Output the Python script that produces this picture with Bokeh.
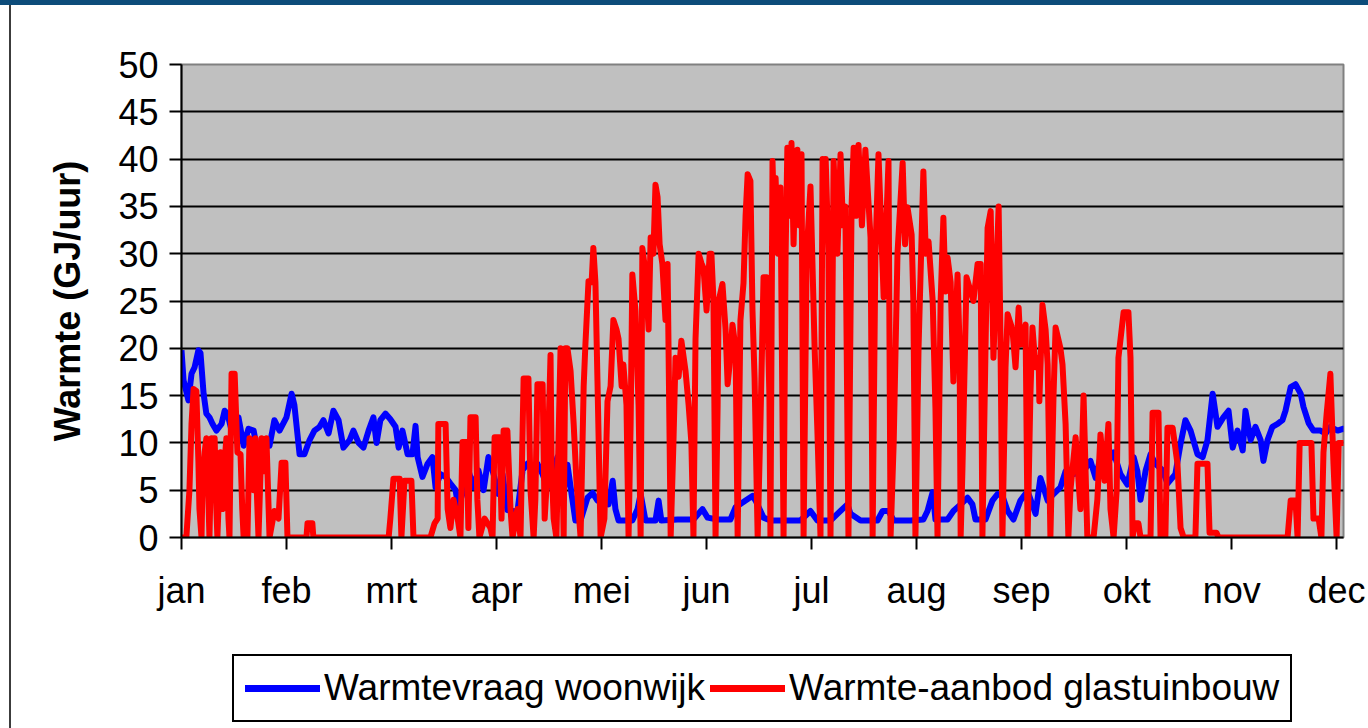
from bokeh.plotting import figure
from bokeh.models import Range1d, FixedTicker, Legend, LegendItem, Div
from bokeh.layouts import column, row
from bokeh.embed import file_html
from bokeh.resources import INLINE

# x positions are day-of-year (0 = 1 jan); values are GJ/uur
month_days = [0, 30.4, 60.8, 91.3, 121.7, 152.1, 182.5, 212.9, 243.3, 273.8, 304.2, 334.6]
month_labels = ["jan", "feb", "mrt", "apr", "mei", "jun", "jul", "aug", "sep", "okt", "nov", "dec"]
y_ticks = [0, 5, 10, 15, 20, 25, 30, 35, 40, 45, 50]
grid_ticks = [5, 10, 15, 20, 25, 30, 35, 40, 45]

# Warmtevraag woonwijk (day, GJ/uur)
blue = [
    (0, 19.8), (0.6, 16.6), (2.0, 14.5), (2.9, 17.3), (3.8, 18), (4.9, 19.8), (5.5, 19.5),
    (6.4, 15.2), (7.2, 13.1), (8.1, 12.7), (9.0, 12), (10.1, 11.3), (11.6, 12), (12.5, 13.4),
    (13.3, 13.1), (14.5, 11.3), (16.5, 12.7), (18.0, 9.7), (19.4, 11.5), (20.9, 11.3), (21.7, 9.7),
    (23.5, 9.9), (25.5, 9.7), (26.9, 12.4), (28.4, 11.3), (30.4, 12.7), (31.9, 15.2), (32.7, 14),
    (34.2, 8.8), (35.6, 8.8), (37.1, 10.3), (38.5, 11.3), (40.0, 11.7), (41.1, 12.4), (42.6, 11),
    (44.0, 13.4), (45.5, 12.4), (46.9, 9.5), (48.7, 10.3), (49.8, 11.3), (51.3, 10), (52.7, 9.5),
    (54.2, 11.3), (55.6, 12.7), (56.5, 10), (57.6, 12.4), (59.1, 13.1), (60.5, 12.5), (62.0, 11.7),
    (62.9, 9.5), (64.0, 11.3), (65.5, 8.8), (66.9, 8.8), (67.8, 11.8), (68.4, 8.5), (69.8, 6.4),
    (71.3, 7.8), (72.7, 8.5), (73.6, 5.3), (75.0, 6.7), (76.5, 6.4), (77.9, 5.7), (79.4, 5.0),
    (80.2, 3.2), (81.7, 5.0), (83.1, 7.1), (84.6, 5.3), (86.0, 7.1), (87.5, 5.0), (88.9, 8.5),
    (90.4, 6.7), (91.8, 4.6), (93.0, 6.7), (94.4, 2.9), (95.9, 2.8), (97.3, 2.7), (98.8, 7.1),
    (100.2, 7.8), (101.7, 7.5), (103.1, 7.8), (104.6, 6.7), (106.0, 5.3), (107.5, 6.7), (108.9, 8.5),
    (110.4, 4.0), (111.8, 7.7), (113.0, 4.6), (114.1, 1.8), (115.6, 1.8), (117.6, 4.2), (119.1, 4.7),
    (120.5, 3.9), (122.2, 4.2), (123.7, 3.5), (124.9, 6.0), (125.7, 3.0), (126.6, 1.8), (130.6, 1.8),
    (132.1, 3.0), (133.0, 4.6), (134.4, 1.8), (137.3, 1.8), (138.2, 3.9), (139.0, 1.8), (143.7, 1.9),
    (148.3, 1.9), (150.9, 3.0), (152.4, 2.1), (155.3, 1.9), (159.0, 1.9), (160.5, 3.2), (163.4, 3.9),
    (165.4, 4.4), (166.3, 3.9), (168.6, 2.1), (170.6, 1.8), (179.3, 1.8), (182.2, 2.8), (184.2, 1.8),
    (188.0, 1.8), (190.0, 2.5), (192.9, 3.5), (193.8, 2.5), (196.7, 1.8), (201.6, 1.8), (203.1, 2.8),
    (204.8, 2.8), (206.3, 1.8), (211.2, 1.8), (214.9, 1.9), (216.1, 2.8), (217.6, 4.8), (218.4, 1.9),
    (221.9, 1.9), (223.6, 2.8), (225.7, 3.5), (227.7, 4.2), (229.1, 3.5), (230.0, 1.9), (232.9, 1.9),
    (234.9, 3.9), (236.4, 4.6), (237.8, 4.4), (239.3, 2.8), (241.0, 1.9), (243.0, 3.9), (245.1, 4.9),
    (247.4, 2.5), (248.8, 6.3), (250.9, 3.9), (252.6, 4.6), (254.6, 5.3), (256.1, 7.0), (258.4, 6.7),
    (261.3, 7.0), (263.3, 8.1), (264.8, 6.3), (266.2, 8.5), (268.2, 7.8), (270.0, 9.0), (272.0, 6.7),
    (274.0, 5.6), (275.8, 8.5), (276.9, 7.0), (277.8, 4.0), (279.3, 7.1), (280.7, 8.8), (282.1, 7.8),
    (284.2, 7.1), (285.6, 5.7), (287.9, 6.7), (289.4, 9.9), (290.8, 12.4), (292.3, 11.3), (294.3, 8.8),
    (295.8, 8.5), (297.2, 10.3), (298.7, 15.2), (300.1, 11.7), (301.8, 12.7), (303.3, 13.4),
    (304.5, 9.5), (305.9, 11.3), (307.4, 9.2), (308.2, 13.4), (309.7, 10.3), (311.1, 11.7),
    (312.6, 10.3), (313.4, 8.1), (314.6, 10.3), (316.0, 11.7), (317.5, 12), (318.9, 12.4),
    (319.8, 13.4), (321.3, 15.9), (322.7, 16.2), (324.2, 15.2), (325.0, 13.8), (326.5, 12.1),
    (327.9, 11.3), (329.9, 11.3), (331.4, 11), (332.8, 11.7), (334.9, 11.3), (336.6, 11.5), (337.8, 11.3),
]

# Warmte-aanbod glastuinbouw (day, GJ/uur)
red = [
    (0, 0), (1.4, 0), (2.3, 5), (2.9, 12), (3.5, 15.7), (4.3, 15.5), (4.9, 8), (5.2, 3), (5.8, 0),
    (6.1, 6), (6.7, 9), (7.2, 10.5), (7.8, 4), (8.1, 0), (8.7, 10.5), (9.0, 6), (9.6, 10.5),
    (10.1, 3), (10.4, 0), (11.3, 9), (11.9, 3), (12.5, 8), (13.0, 10.5), (13.6, 2), (13.9, 0),
    (14.5, 17.3), (15.4, 17.3), (16.2, 9), (17.1, 8.8), (17.6, 3), (18.0, 0), (19.1, 0), (19.7, 10.5),
    (20.3, 8), (20.9, 5), (21.4, 10.5), (21.9, 4), (22.3, 0), (23.2, 10.5), (23.9, 7), (24.6, 10.5),
    (25.5, 0), (26.9, 2.8), (28.1, 2), (29.0, 7.9), (30.1, 7.9), (30.7, 0), (36.2, 0), (36.5, 1.5),
    (37.9, 1.5), (38.2, 0), (60.0, 0), (60.5, 2), (61.4, 6.2), (63.2, 6.2), (63.7, 0), (64.6, 6.0),
    (66.6, 6.0), (67.2, 0), (72.1, 0), (73.3, 1.5), (74.2, 2), (74.4, 12), (76.5, 12), (77.1, 3),
    (77.9, 1), (78.8, 4), (80.0, 2), (80.8, 0), (81.4, 10.1), (82.6, 10.1), (83.1, 1), (83.7, 12.7),
    (85.2, 12.7), (85.7, 4), (86.3, 0), (87.8, 2), (89.5, 1), (90.1, 0), (90.7, 10.6), (92.1, 10.6),
    (92.7, 2), (93.3, 11.3), (94.4, 11.3), (95.3, 3), (95.9, 0), (97.3, 3), (98.2, 0), (99.1, 16.8),
    (100.5, 16.8), (101.1, 5), (102.0, 0), (102.5, 4), (103.1, 16.2), (104.6, 16.2), (105.2, 2),
    (106.0, 7), (106.9, 19.3), (107.2, 8), (107.8, 2), (108.6, 0), (109.2, 10), (109.8, 20),
    (110.7, 0), (111.2, 20), (111.8, 20), (112.7, 17.6), (113.6, 12), (114.4, 6), (115.6, 0),
    (116.5, 16), (117.0, 20.4), (117.9, 27.1), (118.8, 27), (119.3, 30.6), (119.9, 27), (120.5, 16.5),
    (121.4, 0), (122.5, 2), (123.4, 14.4), (124.3, 16), (125.1, 23), (126.0, 22), (126.6, 21),
    (127.5, 16), (128.0, 18.3), (128.9, 14), (129.5, 0), (130.1, 12), (130.6, 27.8), (131.5, 24),
    (132.4, 14), (133.0, 0), (133.5, 30.6), (134.4, 28), (135.3, 22), (135.9, 31.7), (136.7, 30),
    (137.3, 37.3), (137.9, 36), (138.5, 31), (139.3, 28.9), (140.2, 23), (140.8, 28.9), (141.4, 10),
    (141.7, 0), (142.5, 10), (143.1, 19), (144.0, 17), (144.8, 20.8), (146.0, 17.6), (146.9, 14),
    (147.7, 10), (148.3, 0), (148.9, 21), (149.8, 30), (150.6, 29), (151.2, 28.5), (152.1, 24),
    (153.0, 30), (153.5, 30), (154.1, 25), (154.7, 0), (155.3, 14), (155.6, 25), (156.7, 26.8),
    (157.6, 22), (158.2, 16.2), (158.7, 18), (159.6, 22.5), (160.5, 20), (161.1, 0), (161.9, 22.9),
    (162.8, 26.9), (163.4, 34), (164.0, 38.4), (164.8, 37.7), (165.4, 24), (166.0, 16.9), (166.9, 0),
    (167.7, 12), (168.6, 27.5), (169.5, 27.5), (170.3, 15), (170.6, 0), (171.2, 39.8), (171.7, 33),
    (172.1, 38), (172.8, 30), (173.5, 37), (174.4, 0), (175.0, 30), (175.5, 41.2), (176.1, 34),
    (176.7, 41.7), (177.3, 31), (177.8, 38), (178.4, 41), (179.0, 33), (179.6, 40.5), (180.2, 0),
    (181.1, 30), (182.2, 37.1), (183.4, 20), (184.2, 11.3), (185.1, 0), (185.7, 40), (186.1, 32),
    (186.6, 40), (187.4, 30), (188.0, 0), (188.9, 39.8), (190.0, 30), (190.9, 40.5), (191.6, 33),
    (192.3, 35), (193.2, 0), (194.1, 35), (194.7, 41.2), (195.4, 34), (196.1, 41.5), (197.1, 33),
    (198.1, 41), (199.6, 31.7), (200.2, 0), (201.0, 30), (201.9, 40.5), (203.4, 25.4), (204.8, 39.8),
    (205.4, 0), (206.3, 10), (207.4, 30), (208.9, 39.6), (209.6, 31), (210.3, 34.9), (211.5, 32),
    (212.0, 25), (212.6, 0), (213.5, 20), (214.9, 38.7), (215.6, 30), (216.4, 31.3), (217.6, 25),
    (218.4, 13.7), (219.0, 0), (219.9, 25), (220.7, 33.8), (221.3, 26), (221.9, 29.6), (222.8, 27),
    (223.6, 16.5), (224.8, 27.8), (225.4, 20), (225.7, 0), (226.2, 7), (227.4, 27.5), (228.6, 26),
    (229.4, 25), (230.6, 28.9), (231.5, 28.9), (232.0, 0), (232.9, 20), (233.5, 32.7), (234.4, 34.5),
    (235.2, 19), (236.7, 35), (237.2, 22), (237.8, 0), (238.7, 18), (239.3, 23.6), (240.7, 22),
    (241.6, 18), (242.5, 24.3), (243.0, 20.4), (244.5, 22.5), (245.1, 0), (245.9, 15), (246.5, 22.2),
    (247.4, 18), (248.3, 19), (248.5, 14.4), (249.4, 24.6), (250.3, 22), (250.9, 18.3), (251.7, 0),
    (252.6, 15), (253.2, 22.2), (254.6, 20), (255.2, 18.3), (256.1, 12), (256.9, 0), (257.5, 5),
    (259.0, 10.6), (260.4, 3), (261.3, 15), (262.4, 0), (264.2, 0), (265.3, 4), (266.2, 10.9),
    (267.4, 6), (268.5, 12), (269.1, 3), (270.0, 0), (270.9, 5), (271.4, 19), (272.9, 23.8),
    (274.3, 23.8), (274.9, 19), (275.5, 0), (276.1, 1.5), (277.2, 1.5), (277.8, 0), (280.7, 0),
    (281.3, 13.2), (283.0, 13.2), (283.6, 0), (285.0, 0), (285.6, 11.6), (287.1, 11.6), (288.5, 7.8),
    (289.4, 1), (290.3, 0), (293.7, 0), (294.3, 7.8), (297.2, 7.8), (297.8, 0.5), (299.8, 0.5),
    (300.4, 0), (320.4, 0), (321.3, 3.9), (322.7, 3.9), (323.3, 0), (323.9, 10), (325.6, 10),
    (327.3, 10), (327.9, 2), (329.4, 2), (330.2, 0), (330.8, 9), (331.7, 13), (332.8, 17.3),
    (333.7, 7.8), (334.6, 0), (335.2, 10), (337.8, 10), (338.1, 0),
]

blue_x = [d for d, v in blue]
blue_y = [v for d, v in blue]
red_x = [d for d, v in red]
red_y = [v for d, v in red]

FONT = "Liberation Sans"
W = 1368
EDGE = 11          # width of the left page-frame strip
PW = W - EDGE

band = Div(width=W, height=5, styles={"background-color": "#0d4c7a", "margin": "0"})
edge = Div(width=EDGE, height=723, styles={
    "background": "linear-gradient(to right, #ffffff 0px, #ffffff 9px, #3c3c3c 9px, #3c3c3c 11px)",
    "margin": "0"})

p = figure(
    width=PW, height=643, output_backend="svg", toolbar_location=None,
    x_range=Range1d(0, 336.6), y_range=Range1d(0, 50),
    min_border_left=181 - EDGE, min_border_right=25, min_border_top=59, min_border_bottom=111,
)
p.background_fill_color = "#C0C0C0"
p.border_fill_color = "white"
p.outline_line_color = "#808080"
p.outline_line_width = 2

p.xgrid.visible = False
p.ygrid.ticker = FixedTicker(ticks=grid_ticks)
p.ygrid.grid_line_color = "black"
p.ygrid.grid_line_width = 2

p.yaxis.ticker = FixedTicker(ticks=y_ticks)
p.xaxis.ticker = FixedTicker(ticks=month_days)
p.xaxis.major_label_overrides = {d: m for d, m in zip(month_days, month_labels)}

for ax in (p.xaxis[0], p.yaxis[0]):
    ax.axis_line_color = "black"
    ax.axis_line_width = 2
    ax.major_tick_line_color = "black"
    ax.major_tick_line_width = 2
    ax.major_tick_out = 12
    ax.major_tick_in = 0
    ax.minor_tick_line_color = None
    ax.major_label_text_font = FONT
    ax.major_label_text_font_size = "36px"
    ax.major_label_text_color = "black"

p.xaxis.major_label_standoff = 20
p.yaxis.major_label_standoff = 11
p.yaxis.axis_label = "Warmte (GJ/uur)"
p.yaxis.axis_label_text_font = FONT
p.yaxis.axis_label_text_font_size = "36px"
p.yaxis.axis_label_text_font_style = "bold"
p.yaxis.axis_label_text_color = "black"
p.yaxis.axis_label_standoff = 27

p.line(blue_x, blue_y, line_color="#0000FF", line_width=6, line_join="round")
p.line(red_x, red_y, line_color="#FF0000", line_width=6, line_join="round")

# legend strip below the chart (its frame is aligned with the chart frame)
lg = figure(
    width=PW, height=80, output_backend="svg", toolbar_location=None,
    x_range=Range1d(0, 1), y_range=Range1d(0, 1),
    x_axis_type=None, y_axis_type=None,
    min_border_left=0, min_border_right=0, min_border_top=0, min_border_bottom=0,
)
lg.outline_line_color = None
lg.background_fill_color = "white"
lg.border_fill_color = "white"
lg.xgrid.visible = False
lg.ygrid.visible = False
# sample-line renderers for the legend keys, placed outside the visible range
lb = lg.line([2, 3], [2, 2], line_color="#0000FF", line_width=7, line_cap="round")
lr = lg.line([2, 3], [2, 2], line_color="#FF0000", line_width=7, line_cap="round")

legend = Legend(
    items=[LegendItem(label="Warmtevraag woonwijk", renderers=[lb]),
           LegendItem(label="Warmte-aanbod glastuinbouw", renderers=[lr])],
    orientation="horizontal", location=(51, 6),
)
legend.label_text_font = FONT
legend.label_text_font_size = "37px"
legend.label_text_color = "black"
legend.glyph_width = 75
legend.glyph_height = 20
legend.label_standoff = 4
legend.spacing = 5
legend.padding = 11
legend.margin = 0
legend.border_line_color = "black"
legend.border_line_alpha = 1.0
legend.border_line_width = 2
legend.background_fill_color = "white"
legend.background_fill_alpha = 1.0
lg.add_layout(legend, "center")

layout = column(band, row(edge, column(p, lg, spacing=0), spacing=0), spacing=0)
open("out.html", "w").write(file_html(layout, INLINE))
